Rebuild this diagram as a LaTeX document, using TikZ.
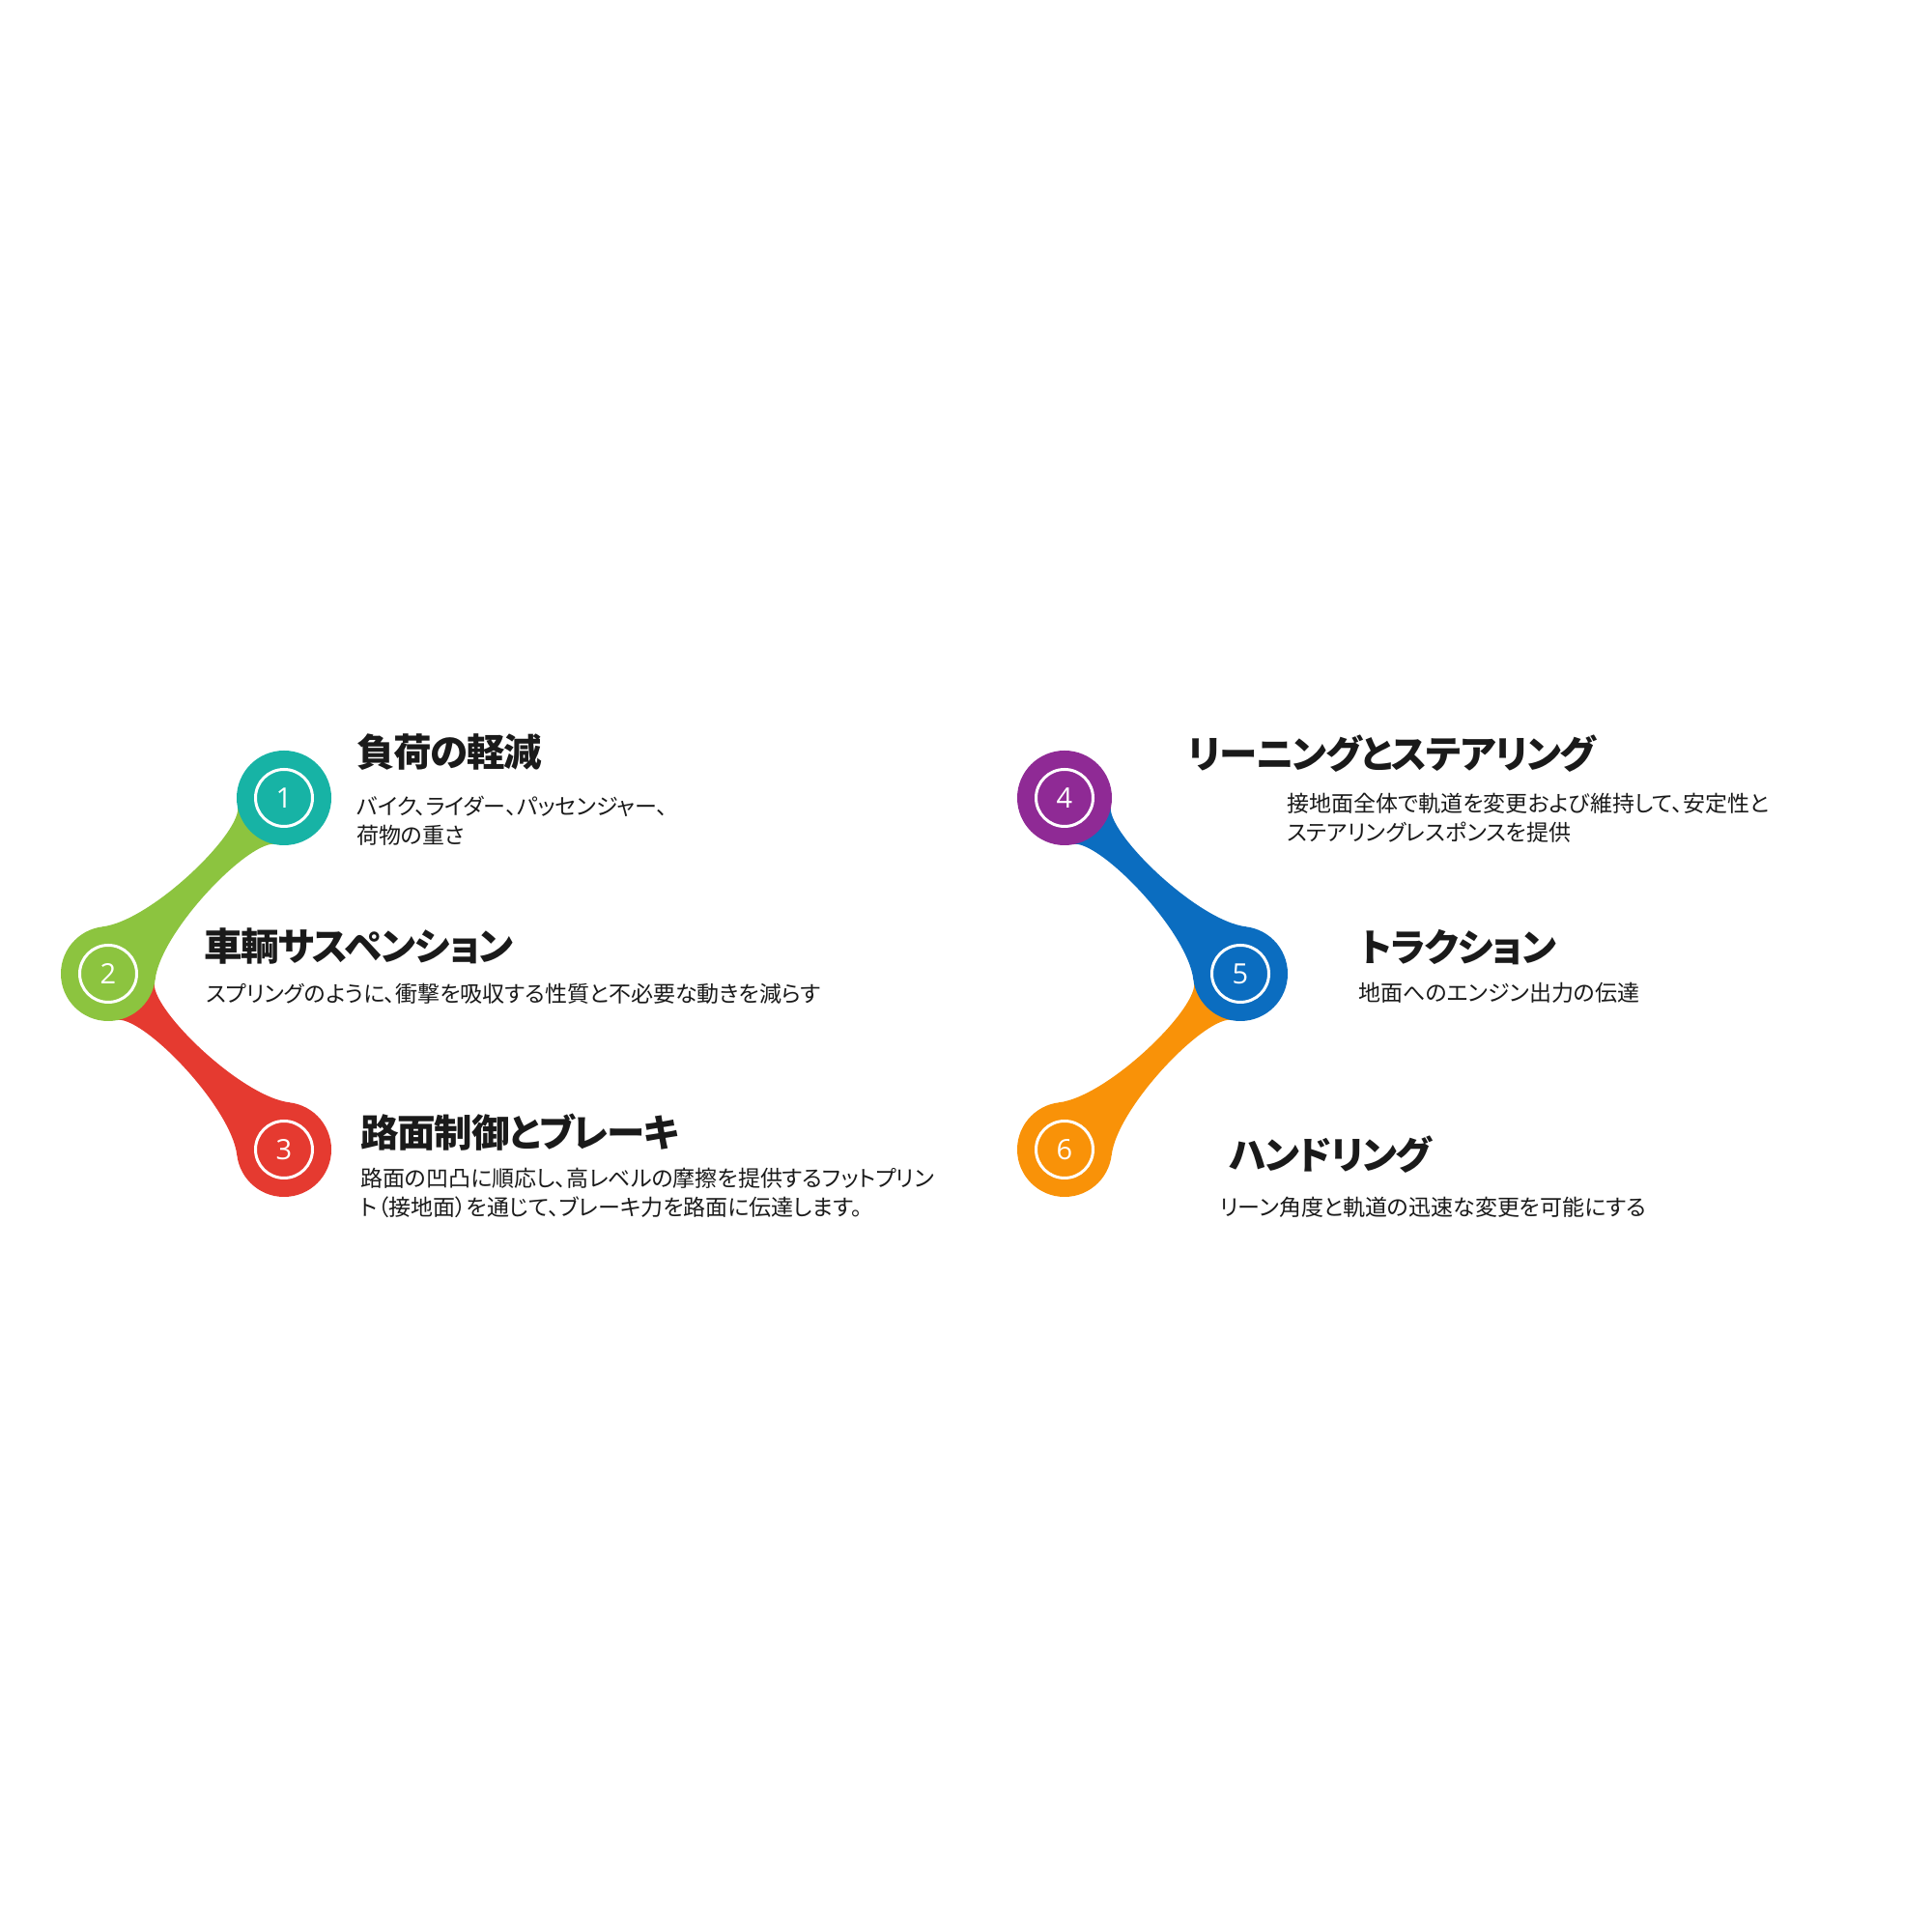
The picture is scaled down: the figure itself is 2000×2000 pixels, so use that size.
\documentclass[tikz,border=0pt]{standalone}
\usepackage{fontspec}
\newfontfamily\jp[RawFeature=+palt]{Noto Sans CJK JP}
\newfontfamily\jpt[RawFeature=+palt, LetterSpace=-3]{Noto Sans CJK JP}
\newfontfamily\numfont{Open Sans}
\definecolor{cteal}{HTML}{17B3A5}
\definecolor{cgreen}{HTML}{8CC43F}
\definecolor{cred}{HTML}{E53A30}
\definecolor{cpurple}{HTML}{8F2A95}
\definecolor{cblue}{HTML}{0B6DC0}
\definecolor{corange}{HTML}{F99208}
\definecolor{txt}{HTML}{1A1A1A}
\newcommand\metaconn[4]{%
  \begin{scope}[shift={(#1.center)}, rotate=#3]
    \fill[#4] (52:49) .. controls (69.6,7.8) and (195.2,5.4) .. (215.85,25.97)
      -- (257.4,0) -- (215.85,-25.97) .. controls (195.2,-5.4) and (69.6,-7.8) .. (-52:49)
      -- (0,0) -- cycle;
  \end{scope}}
\begin{document}
\begin{tikzpicture}[x=1pt,y=1pt,
  dot/.style={circle, fill=#1, minimum size=98pt, inner sep=0pt, text=white,
    font={\numfont\fontsize{29}{29}\selectfont}},
  ttl/.style={anchor=west, inner sep=0pt, text=txt, font={\jpt\bfseries\fontsize{39.5}{46}\selectfont}},
  bdy/.style={anchor=west, inner sep=0pt, align=left, text=txt, font={\jp\fontsize{23}{30}\selectfont}}]
\fill[white] (0,0) rectangle (2000,2000);
\path[use as bounding box] (0,0) rectangle (2000,2000);
% circle positions
\coordinate (p1) at (294,1174);
\coordinate (p2) at (112,992);
\coordinate (p3) at (294,810);
\coordinate (p4) at (1102,1174);
\coordinate (p5) at (1284,992);
\coordinate (p6) at (1102,810);
\path (p1) node[circle, minimum size=98pt] (c1) {} (p2) node[circle, minimum size=98pt] (c2) {}
      (p3) node[circle, minimum size=98pt] (c3) {} (p4) node[circle, minimum size=98pt] (c4) {}
      (p5) node[circle, minimum size=98pt] (c5) {} (p6) node[circle, minimum size=98pt] (c6) {};
% connectors
\metaconn{c2}{c1}{45}{cgreen}
\metaconn{c3}{c2}{135}{cred}
\metaconn{c5}{c4}{135}{cblue}
\metaconn{c6}{c5}{45}{corange}
% circles
\node[dot=cteal] at (c1) {1};
\node[dot=cgreen] at (c2) {2};
\node[dot=cred] at (c3) {3};
\node[dot=cpurple] at (c4) {4};
\node[dot=cblue] at (c5) {5};
\node[dot=corange] at (c6) {6};
\foreach \c in {c1,c2,c3,c4,c5,c6} \draw[white, line width=3pt] (\c.center) circle (29.5);
% texts
\node[ttl] (t1) at (369,1221) {負荷の軽減};
\node[bdy] (b1) at (369,1150) {バイク、ライダー、パッセンジャー、\\荷物の重さ};
\node[ttl] (t2) at (211,1020) {車輌サスペンション};
\node[bdy] (b2) at (213,971) {スプリングのように、衝撃を吸収する性質と不必要な動きを減らす};
\node[ttl] (t3) at (373,828) {路面制御とブレーキ};
\node[bdy] (b3) at (373,765) {路面の凹凸に順応し、高レベルの摩擦を提供するフットプリン\\ト（接地面）を通じて、ブレーキ力を路面に伝達します。};
\node[ttl] (t4) at (1230,1220) {リーニングとステアリング};
\node[bdy] (b4) at (1332,1153) {接地面全体で軌道を変更および維持して、安定性と\\ステアリングレスポンスを提供};
\node[ttl] (t5) at (1408,1019) {トラクション};
\node[bdy] (b5) at (1406,972) {地面へのエンジン出力の伝達};
\node[ttl] (t6) at (1272,805) {ハンドリング};
\node[bdy] (b6) at (1263,750) {リーン角度と軌道の迅速な変更を可能にする};
\end{tikzpicture}
\end{document}
